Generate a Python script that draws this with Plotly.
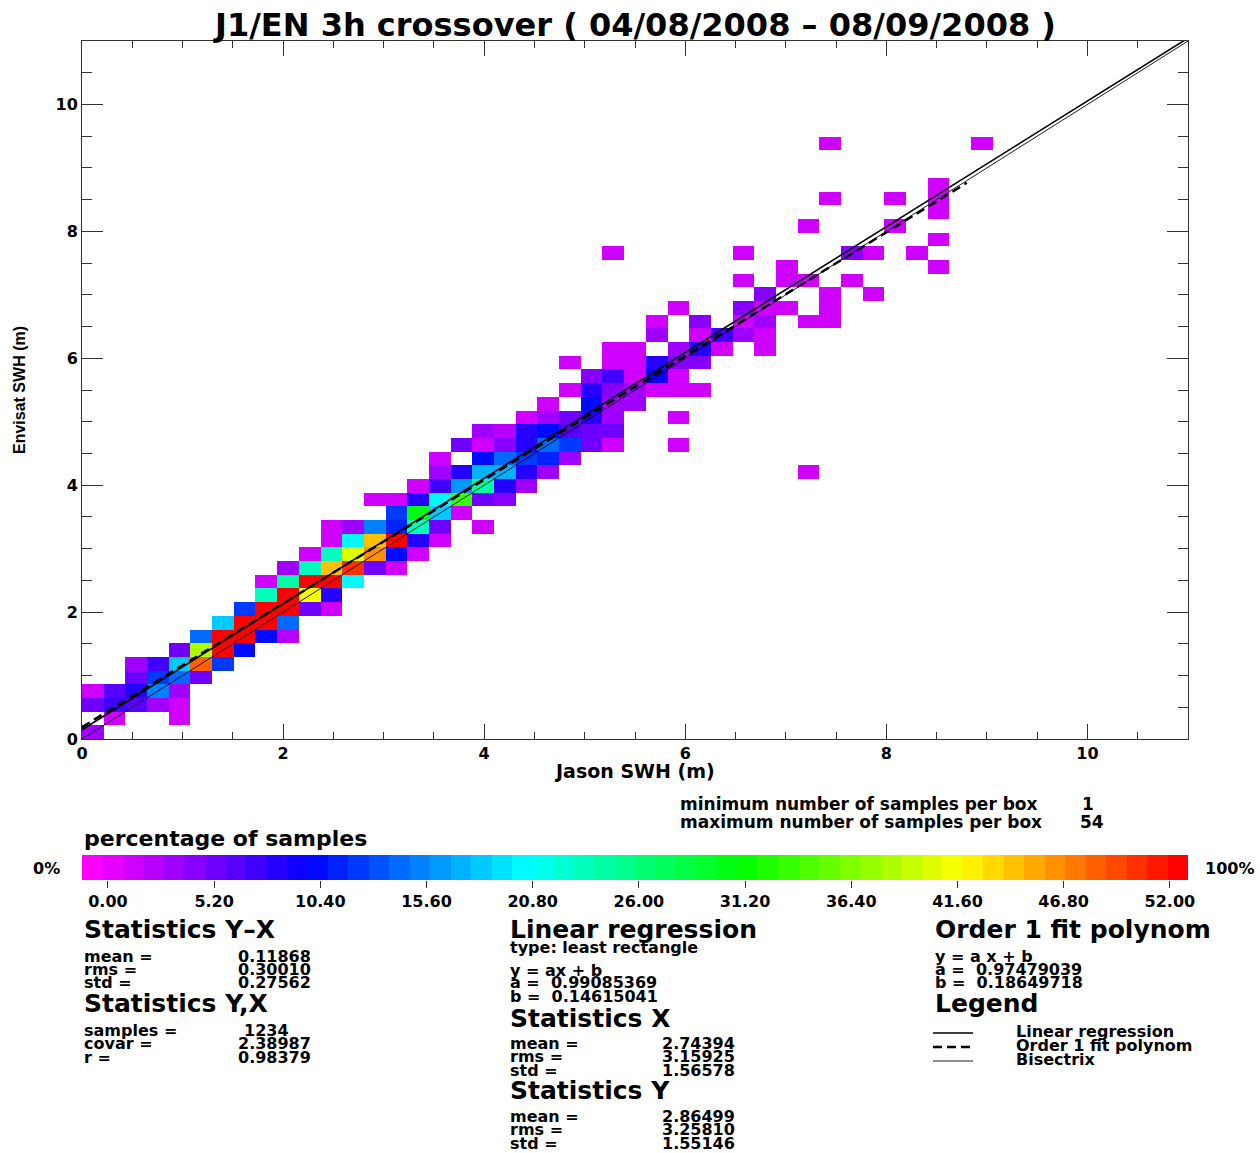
import colorsys
import numpy as np
import plotly.graph_objects as go

W, H = 1260, 1153

# ------------------------------------------------------------------ data
title_text = "J1/EN 3h crossover ( 04/08/2008 – 08/09/2008 )"
x_title = "Jason SWH (m)"
y_title = "Envisat SWH (m)"
axis_max = 11.0          # both axes run 0 .. 11 m
n_bins = 51              # square SWH boxes over 0 .. 11 m
axis_ticks = [0, 2, 4, 6, 8, 10]

# occupied boxes: x-bin index, y-bin index, number of samples (read by colour)
cell_ix = [
    0,
    1, 4,
    0, 1, 2, 3, 4,
    0, 1, 2, 3, 4,
    2, 3, 4, 5,
    2, 3, 4, 5, 6,
    4, 5, 6, 7,
    5, 6, 7, 8, 9,
    6, 7, 8, 9,
    7, 8, 9, 10, 11,
    8, 9, 10, 11,
    8, 9, 10, 11, 12,
    9, 10, 11, 12, 13, 14,
    10, 11, 12, 13, 14, 15,
    11, 12, 13, 14, 15, 16,
    11, 12, 13, 14, 15, 16, 18,
    14, 15, 16, 17,
    13, 14, 15, 16, 17, 18, 19,
    15, 16, 17, 18, 19, 20,
    16, 17, 18, 19, 20, 21, 33,
    16, 18, 19, 20, 21, 22,
    17, 18, 19, 20, 21, 22, 23, 24, 27,
    18, 19, 20, 21, 22, 23, 24,
    20, 21, 22, 23, 24, 27,
    21, 23, 24, 25,
    22, 23, 24, 25, 26, 27, 28,
    23, 24, 25, 26, 27,
    22, 24, 25, 26, 27, 28,
    24, 25, 27, 28, 29, 31,
    26, 28, 29, 30, 31,
    26, 28, 30, 31, 33, 34,
    27, 30, 31, 32, 34,
    31, 34, 36,
    30, 32, 33, 35,
    32, 39,
    24, 30, 35, 36, 38,
    39,
    33, 37,
    39,
    34, 37, 39,
    39,
    34, 41,
]
cell_iy = [
    0,
    1, 1,
    2, 2, 2, 2, 2,
    3, 3, 3, 3, 3,
    4, 4, 4, 4,
    5, 5, 5, 5, 5,
    6, 6, 6, 6,
    7, 7, 7, 7, 7,
    8, 8, 8, 8,
    9, 9, 9, 9, 9,
    10, 10, 10, 10,
    11, 11, 11, 11, 11,
    12, 12, 12, 12, 12, 12,
    13, 13, 13, 13, 13, 13,
    14, 14, 14, 14, 14, 14,
    15, 15, 15, 15, 15, 15, 15,
    16, 16, 16, 16,
    17, 17, 17, 17, 17, 17, 17,
    18, 18, 18, 18, 18, 18,
    19, 19, 19, 19, 19, 19, 19,
    20, 20, 20, 20, 20, 20,
    21, 21, 21, 21, 21, 21, 21, 21, 21,
    22, 22, 22, 22, 22, 22, 22,
    23, 23, 23, 23, 23, 23,
    24, 24, 24, 24,
    25, 25, 25, 25, 25, 25, 25,
    26, 26, 26, 26, 26,
    27, 27, 27, 27, 27, 27,
    28, 28, 28, 28, 28, 28,
    29, 29, 29, 29, 29,
    30, 30, 30, 30, 30, 30,
    31, 31, 31, 31, 31,
    32, 32, 32,
    33, 33, 33, 33,
    34, 34,
    35, 35, 35, 35, 35,
    36,
    37, 37,
    38,
    39, 39, 39,
    40,
    43, 43,
]
cell_count = [
    3,
    1, 1,
    5, 7, 6, 3, 1,
    1, 6, 8, 15, 3,
    5, 12, 14, 5,
    3, 7, 18, 48, 12,
    5, 38, 53, 10,
    14, 54, 53, 10, 2,
    18, 53, 53, 14,
    12, 53, 53, 5, 1,
    23, 53, 41, 8,
    1, 24, 53, 53, 20,
    3, 23, 44, 50, 5, 1,
    1, 23, 40, 46, 10, 1,
    1, 20, 44, 53, 8, 1,
    1, 3, 15, 11, 23, 5, 1,
    12, 30, 18, 1,
    1, 1, 8, 20, 33, 5, 4,
    1, 7, 16, 24, 8, 3,
    3, 8, 17, 17, 8, 3, 1,
    1, 10, 14, 12, 11, 3,
    5, 1, 4, 8, 14, 12, 5, 1, 1,
    3, 2, 8, 10, 6, 5, 5,
    1, 3, 5, 8, 3, 1,
    1, 10, 3, 3,
    1, 8, 4, 3, 1, 1, 1,
    4, 7, 1, 9, 1,
    1, 1, 1, 8, 4, 4,
    1, 1, 3, 8, 1, 1,
    3, 1, 7, 3, 1,
    1, 4, 1, 3, 1, 1,
    1, 4, 1, 1, 1,
    4, 1, 1,
    1, 1, 1, 1,
    1, 1,
    1, 1, 4, 1, 1,
    1,
    1, 1,
    1,
    1, 1, 1,
    1,
    1, 1,
]

# regression results printed under the chart
reg_a, reg_b = 0.99085369, 0.14615041      # linear regression (least rectangle)
fit_a, fit_b = 0.97479039, 0.18649718      # order 1 fit polynom
fit_x_max = 8.8                            # extent of the fitted polynom

# colour scale
cbar_min, cbar_max = -1.27, 52.89
cbar_levels = 54
cbar_tick_values = [0, 5.2, 10.4, 15.6, 20.8, 26.0, 31.2, 36.4, 41.6, 46.8, 52.0]
cbar_tick_labels = ["0.00", "5.20", "10.40", "15.60", "20.80", "26.00",
                    "31.20", "36.40", "41.60", "46.80", "52.00"]

min_per_box, max_per_box = 1, 54

stats_yx = [("mean =", "0.11868"), ("rms =", "0.30010"), ("std =", "0.27562")]
stats_yx2 = [("samples =", "1234"), ("covar =", "2.38987"), ("r =", "0.98379")]
stats_x = [("mean =", "2.74394"), ("rms =", "3.15925"), ("std =", "1.56578")]
stats_y = [("mean =", "2.86499"), ("rms =", "3.25810"), ("std =", "1.55146")]
legend_labels = ["Linear regression", "Order 1 fit polynom", "Bisectrix"]

# ------------------------------------------------------------------ helpers
FONT = "DejaVu Sans"


def px(x):
    return x / W


def py(y):
    return 1 - y / H


def hue_rgb(k, n):
    h = (300.0 * (1 - k / (n - 1))) / 360.0
    r, g, b = colorsys.hsv_to_rgb(h, 1, 1)
    return f"rgb({int(round(r*255))},{int(round(g*255))},{int(round(b*255))})"


colorscale = []
for k in range(cbar_levels):
    c = hue_rgb(k, cbar_levels)
    colorscale.append([k / cbar_levels, c])
    colorscale.append([(k + 1) / cbar_levels, c])

# ------------------------------------------------------------------ figure
edges = np.linspace(0, axis_max, n_bins + 1)
z = np.full((n_bins, n_bins), np.nan)
for ix, iy, c in zip(cell_ix, cell_iy, cell_count):
    z[iy, ix] = c
z_list = [[None if np.isnan(v) else float(v) for v in row] for row in z]

fig = go.Figure()
fig.add_trace(go.Heatmap(
    x=edges, y=edges, z=z_list, colorscale=colorscale,
    zmin=cbar_min, zmax=cbar_max, showscale=False, hoverongaps=False,
    xaxis="x", yaxis="y"))

xl = np.array([0.0, axis_max])
fig.add_trace(go.Scatter(x=xl, y=xl, mode="lines",
                         line=dict(color="black", width=0.9),
                         showlegend=False, xaxis="x", yaxis="y"))
fig.add_trace(go.Scatter(x=xl, y=reg_a * xl + reg_b, mode="lines",
                         line=dict(color="black", width=1.6),
                         showlegend=False, xaxis="x", yaxis="y"))
xf = np.array([0.0, fit_x_max])
fig.add_trace(go.Scatter(x=xf, y=fit_a * xf + fit_b, mode="lines",
                         line=dict(color="black", width=2.4, dash="9px,5px"),
                         showlegend=False, xaxis="x", yaxis="y"))

# colour bar as its own strip
cb_edges = np.linspace(cbar_min, cbar_max, cbar_levels + 1)
cb_centers = (cb_edges[:-1] + cb_edges[1:]) / 2
fig.add_trace(go.Heatmap(
    x=cb_edges, y=[0, 1], z=[cb_centers.tolist()], colorscale=colorscale,
    zmin=cbar_min, zmax=cbar_max, showscale=False,
    xaxis="x2", yaxis="y2"))

axis_common = dict(showline=True, linecolor="#333333", linewidth=1,
                   mirror="allticks", ticks="inside", tickcolor="#333333",
                   showgrid=False, zeroline=False, range=[0, axis_max],
                   tickvals=axis_ticks,
                   tickfont=dict(family=FONT, size=16, color="black",
                                 weight="bold"))

fig.update_layout(
    width=W, height=H, margin=dict(l=0, r=0, t=0, b=0, autoexpand=False),
    paper_bgcolor="white", plot_bgcolor="white", showlegend=False,
    xaxis=dict(domain=[px(82), px(1188)], anchor="y", ticklen=15,
               minor=dict(dtick=0.5, ticklen=7, ticks="inside",
                          tickcolor="#333333"),
               **axis_common),
    yaxis=dict(domain=[py(739), py(41)], anchor="x", ticklen=21,
               minor=dict(dtick=0.5, ticklen=10, ticks="inside",
                          tickcolor="#333333"),
               **axis_common),
    xaxis2=dict(domain=[px(82), px(1188)], anchor="y2",
                range=[cbar_min, cbar_max], tickvals=cbar_tick_values,
                ticktext=cbar_tick_labels, ticks="outside", ticklen=7,
                tickcolor="#333333", showline=False, showgrid=False,
                zeroline=False,
                tickfont=dict(family=FONT, size=16, color="black",
                              weight="bold")),
    yaxis2=dict(domain=[py(880), py(855)], anchor="x2", range=[0, 1],
                visible=False),
)

ann = []


def text(x, y, s, size=16, bold=True, anchor="left", angle=0, family=FONT):
    ann.append(dict(x=px(x), y=py(y), xref="paper", yref="paper", text=s,
                    showarrow=False, xanchor=anchor, yanchor="middle",
                    textangle=angle,
                    font=dict(family=family, size=size, color="black",
                              weight="bold" if bold else "normal")))


text(634, 25, title_text, size=32, anchor="center")
text(634, 771, x_title, size=19, anchor="center")
text(20, 390, y_title, size=16, anchor="center", angle=-90,
     family="Liberation Sans")

text(678, 804, "minimum number of samples per box", size=17)
text(1080, 804, str(min_per_box), size=17)
text(678, 822, "maximum number of samples per box", size=17)
text(1078, 822, str(max_per_box), size=17)
text(82, 838, "percentage of samples", size=22)
text(62, 868, "0%", size=16, anchor="right")
text(1203, 868, "100%", size=16)

HS = 25   # header size
SS = 16   # small text size
LS = 13.5  # line spacing

# statistics Y-X / Y,X
text(82, 929, "Statistics Y–X", size=HS)
for i, (k, v) in enumerate(stats_yx):
    text(82, 956 + LS * i, k, size=SS)
    text(236, 956 + LS * i, v, size=SS)
text(82, 1003, "Statistics Y,X", size=HS)
for i, (k, v) in enumerate(stats_yx2):
    text(82, 1030 + LS * i, k, size=SS)
    text(236 if i else 242, 1030 + LS * i, v, size=SS)

# linear regression / stats X / stats Y
text(508, 929, "Linear regression", size=HS)
text(508, 947, "type: least rectangle", size=SS)
text(508, 970, "y = ax + b", size=SS)
text(508, 983, f"a =  {reg_a:.8f}", size=SS)
text(508, 997, f"b =  {reg_b:.8f}", size=SS)
text(508, 1018, "Statistics X", size=HS)
for i, (k, v) in enumerate(stats_x):
    text(508, 1043 + LS * i, k, size=SS)
    text(660, 1043 + LS * i, v, size=SS)
text(508, 1090, "Statistics Y", size=HS)
for i, (k, v) in enumerate(stats_y):
    text(508, 1116 + LS * i, k, size=SS)
    text(660, 1116 + LS * i, v, size=SS)

# order 1 fit / legend
text(933, 929, "Order 1 fit polynom", size=HS)
text(933, 956, "y = a x + b", size=SS)
text(933, 969, f"a =  {fit_a:.8f}", size=SS)
text(933, 983, f"b =  {fit_b:.8f}", size=SS)
text(933, 1003, "Legend", size=HS)
leg_styles = [dict(width=1.6), dict(width=2.4, dash="9px,5px"), dict(width=0.9)]
shapes = []
for i, (lab, st) in enumerate(zip(legend_labels, leg_styles)):
    yy = 1033 + 14 * i
    shapes.append(dict(type="line", xref="paper", yref="paper",
                       x0=px(933), x1=px(973), y0=py(yy), y1=py(yy),
                       line=dict(color="black", **st)))
    text(1014, yy - 2, lab, size=SS)

fig.update_layout(annotations=ann, shapes=shapes)
fig.write_html(
    "out.html",
    config={"displayModeBar": False},
    post_script="document.body.style.margin='0px';"
                "document.documentElement.style.overflow='hidden';")
